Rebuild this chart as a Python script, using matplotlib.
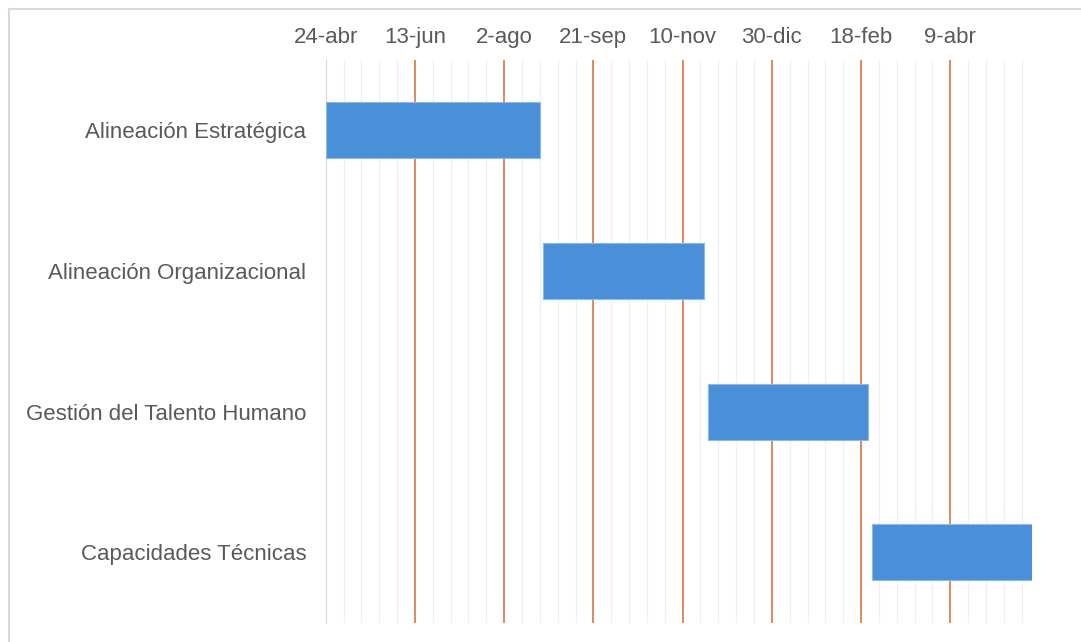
import datetime as dt
import numpy as np
import matplotlib
matplotlib.use("Agg")
import matplotlib.pyplot as plt
import matplotlib.dates as mdates
from matplotlib.lines import Line2D

# datos del diagrama
tareas = ["Alineación Estratégica", "Alineación Organizacional",
          "Gestión del Talento Humano", "Capacidades Técnicas"]
inicio = ["2018-04-24", "2018-08-24", "2018-11-24", "2019-02-24"]
duracion = [120, 90, 90, 90]
meses = ["ene", "feb", "mar", "abr", "may", "jun",
         "jul", "ago", "sep", "oct", "nov", "dic"]

plt.rcParams['font.family'] = ['Liberation Sans', 'DejaVu Sans']
gris = '#595959'

fig = plt.figure(figsize=(10.81, 6.42), dpi=100)
ax = fig.add_axes([325.7/1081, 1 - 622.7/642, (1032.4 - 325.7)/1081, (622.7 - 60)/642])

x_ini = mdates.date2num([dt.datetime.strptime(d, "%Y-%m-%d") for d in inicio])
y = np.arange(len(tareas))
ax.barh(y, duracion, left=x_ini, height=0.4, color='#4A90D9',
        edgecolor='#8DB8E8', linewidth=0.8, zorder=3)

x0 = x_ini[0]
ax.set_xlim(x0, x0 + 396)
ax.set_ylim(len(tareas) - 0.5, -0.5)

ax.set_xticks(x0 + np.arange(0, 351, 50))
ax.set_xticks(x0 + np.arange(0, 391, 10), minor=True)


def fmt(v, pos=None):
    d = mdates.num2date(v)
    return "%d-%s" % (d.day, meses[d.month - 1])


ax.xaxis.set_major_formatter(plt.FuncFormatter(fmt))
ax.xaxis.tick_top()
ax.tick_params(axis='x', which='both', length=0, pad=8.5, labelsize=16, labelcolor=gris)
ax.grid(axis='x', which='minor', color='#F0F0F0', linewidth=1, zorder=0)
ax.grid(axis='x', which='major', color='#D9773F', linewidth=1.2, zorder=1)

ax.set_yticks(y)
ax.set_yticklabels(tareas)
ax.tick_params(axis='y', length=0, pad=14, labelsize=16, labelcolor=gris)

for s in ['top', 'right', 'bottom']:
    ax.spines[s].set_visible(False)
ax.spines['left'].set_color('#D9D9D9')

# marco exterior (solo izquierda y arriba visibles)
fx, fy = 8.5/1081, 1 - 8.5/642
fig.lines.append(Line2D([fx, fx], [0, fy], transform=fig.transFigure,
                        color='#D9D9D9', linewidth=1.5))
fig.lines.append(Line2D([fx, 1], [fy, fy], transform=fig.transFigure,
                        color='#D9D9D9', linewidth=1.5))

fig.savefig("out.png", dpi=100)
